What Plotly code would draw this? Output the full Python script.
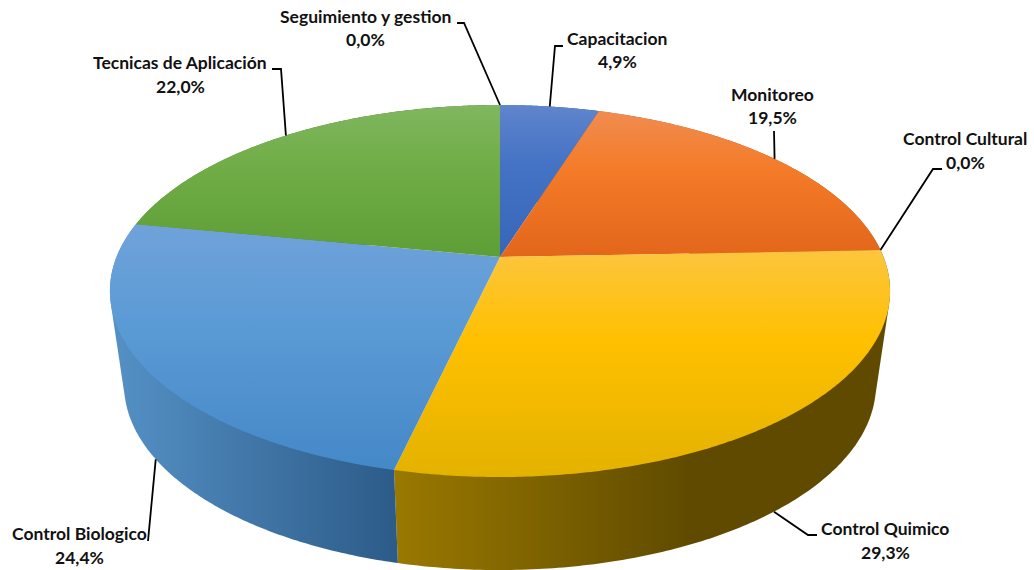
import numpy as np
import plotly.graph_objects as go

# Share of each activity, clockwise from twelve o'clock
categories = ["Capacitacion", "Monitoreo", "Control Cultural", "Control Quimico",
              "Control Biologico", "Tecnicas de Aplicación", "Seguimiento y gestion"]
values = [4.9, 19.5, 0.0, 29.3, 24.4, 22.0, 0.0]

# Light / base / dark stops for the top faces, lit / dark stops for the side walls
top_light = ["#5F85CC", "#F08C50", "#B5B5B5", "#FCC53E", "#70A2DB", "#80B75F", "#44608F"]
top_base = ["#4472C4", "#F47B28", "#A5A5A5", "#FFC000", "#5B9BD5", "#70AD47", "#264478"]
top_dark = ["#3765B8", "#E3661B", "#959595", "#E3B200", "#4588C8", "#5E9E36", "#1E3868"]
wall_light = ["#5A82CC", "#C0622A", "#8A8A8A", "#9A7900", "#5591C6", "#5F9640", "#264478"]
wall_dark = ["#2F4F88", "#8A4518", "#5E5E5E", "#5F4A00", "#2C5B88", "#3F6B2A", "#1E3868"]

# Perspective disc: top face and bottom rim of the cylinder
TOP = dict(cx=500.0, cy=257.0, A=383.5, B=179.8, k=0.1828)
BOTTOM = dict(cx=500.0, cy=351.0, A=369.6, B=179.0, k=0.1828)

# Label placement: name centre, percentage centre and the elbow of each leader line
LABELS = {
    "Capacitacion": dict(name=(617, 38.5), pct=(617, 61.5), elbow=[(563, 46), (555, 46)]),
    "Monitoreo": dict(name=(772, 94.5), pct=(772, 117.5), elbow=[(774, 131)]),
    "Control Cultural": dict(name=(965, 138.5), pct=(965, 162.5), elbow=[(942, 169), (933, 169)]),
    "Control Quimico": dict(name=(885, 528.5), pct=(885, 552.5), elbow=[(817, 535), (808, 535)]),
    "Control Biologico": dict(name=(79, 533.5), pct=(79, 557.5), elbow=[(148, 541)]),
    "Tecnicas de Aplicación": dict(name=(180, 62.5), pct=(180, 86.5), elbow=[(272, 69), (281, 69)]),
    "Seguimiento y gestion": dict(name=(365, 16.5), pct=(365, 39.5), elbow=[(457, 23), (464, 23)]),
}

FONT = dict(family="Lato", size=17.5, color="#111111")


def project(theta, disc):
    """Map an angle on the disc (radians, clockwise from the back) to the page."""
    u, v = np.sin(theta), -np.cos(theta)
    w = 1 - disc["k"] * v
    return disc["cx"] + disc["A"] * u / w, disc["cy"] + disc["B"] * v / w


def convex_hull(xs, ys):
    pts = sorted(set(zip(np.round(xs, 3).tolist(), np.round(ys, 3).tolist())))

    def half(points):
        out = []
        for p in points:
            while len(out) >= 2 and (
                (out[-1][0] - out[-2][0]) * (p[1] - out[-2][1])
                - (out[-1][1] - out[-2][1]) * (p[0] - out[-2][0])
            ) <= 0:
                out.pop()
            out.append(p)
        return out[:-1]

    hull = half(pts) + half(pts[::-1])
    hull.append(hull[0])
    return [p[0] for p in hull], [p[1] for p in hull]


shares = np.array(values) / sum(values)
edges = np.concatenate([[0.0], np.cumsum(shares)]) * 2 * np.pi

fig = go.Figure()

# Side walls first, so the top faces sit over them
for i, name in enumerate(categories):
    if values[i] == 0:
        continue
    th = np.linspace(edges[i], edges[i + 1], 160)
    tx, ty = project(th, TOP)
    bx, by = project(th, BOTTOM)
    hx, hy = convex_hull(np.concatenate([tx, bx]), np.concatenate([ty, by]))
    mid_stop = 0.6 if name == "Control Quimico" else 1.0
    fig.add_trace(go.Scatter(
        x=hx, y=hy, mode="none", fill="toself", name=name,
        fillgradient=dict(
            type="horizontal", start=min(hx), stop=max(hx),
            colorscale=[[0, wall_light[i]], [mid_stop, wall_dark[i]], [1, wall_dark[i]]],
        ),
        hoverinfo="skip", showlegend=False,
    ))

# Top faces, each shaded down its own height
for i, name in enumerate(categories):
    if values[i] == 0:
        continue
    th = np.linspace(edges[i], edges[i + 1], 200)
    ax, ay = project(th, TOP)
    px = np.concatenate([[TOP["cx"]], ax, [TOP["cx"]]])
    py = np.concatenate([[TOP["cy"]], ay, [TOP["cy"]]])
    fig.add_trace(go.Scatter(
        x=px, y=py, mode="none", fill="toself", name=name,
        fillgradient=dict(
            type="vertical", start=float(py.min()), stop=float(py.max()),
            colorscale=[[0, top_light[i]], [0.4, top_base[i]], [1, top_dark[i]]],
        ),
        hoverinfo="skip", showlegend=False,
    ))

annotations = []
for i, name in enumerate(categories):
    spec = LABELS[name]
    mid = (edges[i] + edges[i + 1]) / 2
    # Leader lines end on the near rim for front slices, on the top rim otherwise
    ex, ey = project(mid, BOTTOM if np.cos(mid) < 0 else TOP)
    lx = [p[0] for p in spec["elbow"]] + [float(ex)]
    ly = [p[1] for p in spec["elbow"]] + [float(ey)]
    fig.add_trace(go.Scatter(
        x=lx, y=ly, mode="lines", line=dict(color="#000000", width=1.8),
        hoverinfo="skip", showlegend=False,
    ))
    pct = f"{values[i]:.1f}".replace(".", ",") + "%"
    for text, (ax_, ay_) in ((name, spec["name"]), (pct, spec["pct"])):
        annotations.append(dict(
            x=ax_, y=ay_, xref="x", yref="y", text=f"<b>{text}</b>", showarrow=False,
            xanchor="center", yanchor="middle", font=FONT,
        ))

fig.update_layout(
    width=1034, height=570, autosize=False,
    margin=dict(l=0, r=0, t=0, b=0),
    paper_bgcolor="#FFFFFF", plot_bgcolor="#FFFFFF",
    xaxis=dict(range=[0, 1034], visible=False, fixedrange=True),
    yaxis=dict(range=[570, 0], visible=False, fixedrange=True),
    annotations=annotations,
)

fig.write_html("out.html")
